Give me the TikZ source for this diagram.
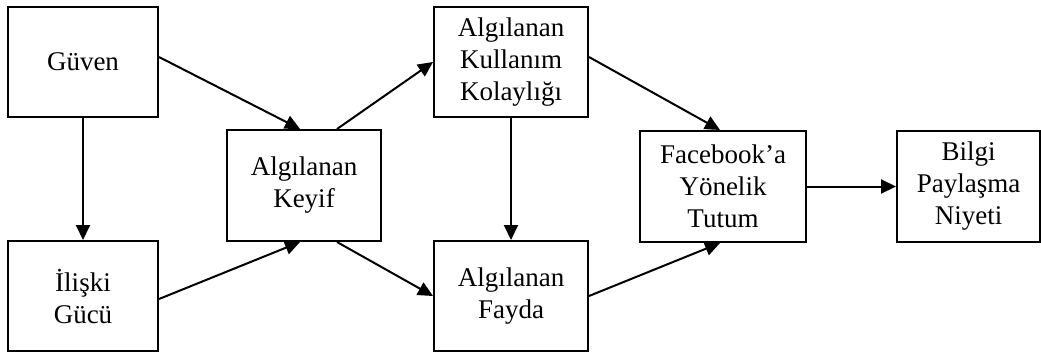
\documentclass[tikz,border=0pt]{standalone}
\usepackage{fontspec}
\setmainfont{Liberation Serif}
\usetikzlibrary{arrows.meta}
\tikzset{
  factor/.style={draw, line width=2pt, align=center, inner sep=0pt,
    font=\fontsize{27}{32}\selectfont},
  arr/.style={line width=2pt, -{Triangle[length=15pt,width=14pt]}}
}
\begin{document}
\begin{tikzpicture}[x=1pt,y=-1pt]
  \useasboundingbox (0,0) rectangle (1041,354);
  % factors
  \node[factor, minimum width=150pt, minimum height=110pt] (guven) at (83,62) {Güven};
  \node[factor, minimum width=150pt, minimum height=110pt] (iliski) at (83,296) {İlişki\\Gücü};
  \node[factor, minimum width=154pt, minimum height=111pt] (keyif) at (304,185.5) {Algılanan\\Keyif};
  \node[factor, minimum width=154pt, minimum height=110pt] (kolay) at (511,62) {Algılanan\\Kullanım\\Kolaylığı};
  \node[factor, minimum width=154pt, minimum height=110pt] (fayda) at (511,296) {Algılanan\\Fayda};
  \node[factor, minimum width=166pt, minimum height=111pt] (tutum) at (723,186.5) {Facebook’a\\Yönelik\\Tutum};
  \node[factor, minimum width=143pt, minimum height=111pt] (niyet) at (968.5,186.5) {Bilgi\\Paylaşma\\Niyeti};
  % paths
  \draw[arr] (guven) -- (iliski);
  \draw[arr] ([yshift=5pt]guven.east) -- ([xshift=-4pt]keyif.north);
  \draw[arr] ([yshift=-3pt]iliski.east) -- ([xshift=-4pt]keyif.south);
  \draw[arr] ([xshift=33pt]keyif.north) -- (kolay.west);
  \draw[arr] ([xshift=33pt]keyif.south) -- (fayda.west);
  \draw[arr] (kolay) -- (fayda);
  \draw[arr] ([yshift=5pt]kolay.east) -- ([xshift=-3pt]tutum.north);
  \draw[arr] (fayda.east) -- ([xshift=-3pt]tutum.south);
  \draw[arr] (tutum) -- (niyet);
\end{tikzpicture}
\end{document}
